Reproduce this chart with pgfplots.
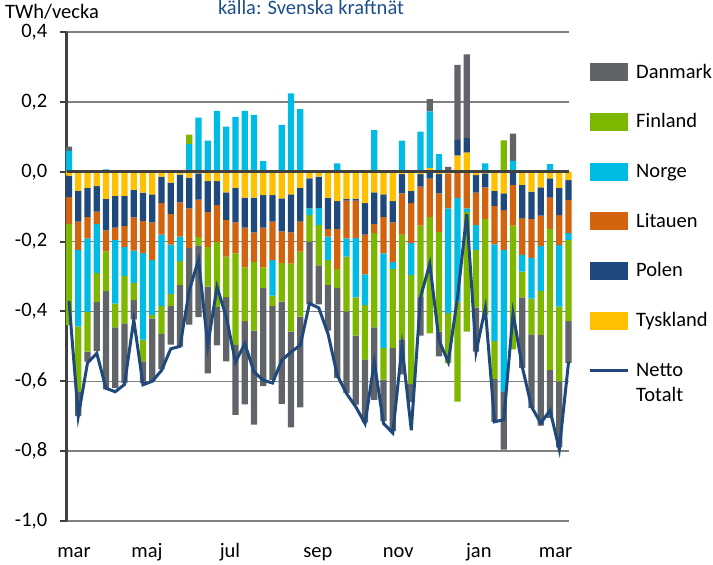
\documentclass[border=0pt]{standalone}
\usepackage{fontspec}
\setmainfont{Carlito}
\usepackage{pgfplots}
\usepackage{pgfplotstable}
\pgfplotsset{compat=1.18}
\definecolor{cDan}{RGB}{96,99,104}
\definecolor{cFin}{RGB}{125,183,0}
\definecolor{cNor}{RGB}{0,188,228}
\definecolor{cLit}{RGB}{210,100,15}
\definecolor{cPol}{RGB}{31,73,125}
\definecolor{cTys}{RGB}{255,192,0}
\definecolor{cNet}{RGB}{31,73,125}
\definecolor{cTitle}{RGB}{31,78,140}
\definecolor{cGrid}{RGB}{128,128,128}
\definecolor{cAxis}{RGB}{64,64,64}

\pgfplotstableread{
i T P L N F D net
0 -0.011 -0.062 -0.076 0.06 -0.29 0.012 -0.37
1 -0.055 -0.088 -0.081 -0.219 -0.186 -0.071 -0.70
2 -0.046 -0.083 -0.062 -0.21 -0.114 -0.029 -0.547
3 -0.041 -0.073 -0.036 -0.14 -0.083 -0.141 -0.52
4 -0.078 -0.09 -0.06 0.007 -0.114 -0.281 -0.62
5 -0.069 -0.091 -0.035 -0.183 -0.068 -0.173 -0.63
6 -0.069 -0.086 -0.06 -0.083 -0.136 -0.171 -0.609
7 -0.052 -0.079 -0.095 -0.092 -0.05 -0.055 -0.424
8 -0.06 -0.081 -0.092 -0.248 -0.062 -0.062 -0.61
9 -0.065 -0.08 -0.108 -0.157 -0.01 -0.18 -0.60
10 -0.014 -0.076 -0.09 -0.205 -0.079 -0.102 -0.569
11 -0.031 -0.09 -0.088 -0.141 -0.035 -0.11 -0.507
12 -0.008 -0.08 -0.098 -0.07 -0.069 -0.176 -0.50
13 -0.017 -0.088 -0.114 0.079 0.027 -0.219 -0.34
14 -0.005 -0.075 -0.107 0.155 -0.024 -0.205 -0.252
15 -0.027 -0.088 -0.1 0.089 -0.114 -0.248 -0.497
16 -0.027 -0.069 -0.105 0.174 -0.186 -0.11 -0.33
17 -0.059 -0.079 -0.105 0.129 -0.116 -0.184 -0.416
18 -0.046 -0.099 -0.089 0.157 -0.262 -0.2 -0.545
19 -0.074 -0.086 -0.114 0.174 -0.154 -0.238 -0.492
20 -0.074 -0.1 -0.085 0.163 -0.196 -0.269 -0.573
21 -0.067 -0.093 -0.114 0.03 -0.059 -0.281 -0.597
22 -0.067 -0.076 -0.11 -0.102 -0.029 -0.212 -0.605
23 -0.076 -0.095 -0.09 0.134 -0.111 -0.293 -0.54
24 -0.065 -0.109 -0.089 0.224 -0.195 -0.274 -0.516
25 -0.046 -0.097 -0.086 0.179 -0.186 -0.26 -0.497
26 -0.019 -0.086 0 -0.019 -0.076 -0.18 -0.377
27 -0.014 -0.09 0 -0.048 -0.116 -0.112 -0.39
28 -0.074 -0.09 -0.022 -0.067 -0.071 -0.131 -0.464
29 -0.084 -0.08 -0.114 0.024 -0.055 -0.257 -0.583
30 -0.078 -0.005 -0.108 -0.052 -0.157 -0.233 -0.635
31 -0.078 -0.005 -0.107 -0.17 -0.109 -0.198 -0.673
32 -0.09 -0.09 -0.114 -0.088 -0.155 -0.181 -0.721
33 -0.059 -0.09 -0.027 0.119 -0.27 -0.207 -0.545
34 -0.065 -0.064 -0.105 -0.271 -0.09 -0.119 -0.721
35 -0.084 -0.061 -0.114 -0.019 -0.227 -0.238 -0.748
36 -0.007 -0.055 -0.118 0.089 -0.3 -0.1 -0.50
37 -0.055 -0.035 -0.114 -0.092 -0.312 -0.052 -0.74
38 -0.007 -0.036 -0.111 0.115 -0.205 -0.11 -0.359
39 0.01 -0.02 -0.11 0.163 -0.333 0.035 -0.264
40 -0.007 -0.055 -0.11 0.05 -0.286 -0.071 -0.483
41 -0.005 0 -0.1 -0.3 -0.143 0.014 -0.545
42 0.046 0.045 -0.075 -0.297 -0.286 0.215 -0.359
43 0.055 0.041 -0.105 -0.01 -0.343 0.24 -0.121
44 -0.01 -0.05 -0.093 -0.071 -0.165 -0.126 -0.516
45 -0.005 -0.04 -0.09 0.024 -0.275 0 -0.39
46 -0.055 -0.043 -0.11 -0.276 -0.11 -0.122 -0.716
47 -0.062 -0.048 -0.114 -0.405 0.09 -0.167 -0.71
48 0 -0.038 -0.116 0.031 -0.355 0.078 -0.405
49 -0.038 -0.095 -0.105 -0.048 -0.074 -0.202 -0.559
50 -0.057 -0.078 -0.112 -0.116 -0.103 -0.21 -0.673
51 -0.045 -0.081 -0.086 -0.129 -0.126 -0.26 -0.72
52 -0.019 -0.055 -0.09 0.022 -0.403 -0.138 -0.683
53 -0.046 -0.078 -0.086 -0.176 -0.214 -0.189 -0.795
54 -0.024 -0.057 -0.095 -0.019 -0.233 -0.119 -0.545
}\data

\begin{document}
\begin{tikzpicture}[font=\fontsize{20.5}{24}\selectfont]
\useasboundingbox (-66.7pt,-44pt) rectangle (646.3pt,521pt);
\pgfplotsset{
  common/.style={scale only axis, width=502.3pt, height=489pt,
    xmin=-0.25, xmax=54.05, ymin=-1, ymax=0.4, at={(0pt,0pt)}, anchor=south west, clip=false},
  legbox/.style={legend image code/.code={\path[##1, draw=none] (0pt,-3pt) rectangle (38pt,15pt);}}
}
\begin{axis}[common, ybar stacked, bar width=6.3pt,
  axis lines*=left,
  x axis line style={cGrid, line width=1.5pt},
  y axis line style={cAxis, line width=2.5pt},
  ytick={-1,-0.8,-0.6,-0.4,-0.2,0,0.2,0.4},
  ymajorgrids, grid style={cGrid, line width=1.5pt},
  ytick style={cAxis, line width=2pt},
  tick align=outside, major tick length=7pt,
  xtick={0.54,8.43,17.4,26.9,35.6,44.3,52.6},
  xticklabels={mar,maj,jul,sep,nov,jan,mar},
  xtick style={draw=none},
  every tick label/.append style={font=\fontsize{20.5}{24}\selectfont},
  xticklabel style={anchor=base, yshift=-30pt},
  yticklabel style={xshift=-9pt, /pgf/number format/.cd, fixed, fixed zerofill, precision=1, use comma, assume math mode=true},
  reverse legend,
  legend style={at={(1,1)}, anchor=north west, xshift=19pt, yshift=-31pt,
    draw=none, fill=none, row sep=29.7pt, column sep=7pt, inner sep=0pt,
    font=\fontsize{20.5}{24}\selectfont,
    nodes={anchor=base west, inner sep=0pt, text height=15pt, text depth=5pt}},
]
% legend entry for the line
\addlegendimage{legend image code/.code={\draw[cNet, line width=3pt] (0pt,6pt) -- (38pt,6pt);}}
\addlegendentry{\begin{tabular}[t]{@{}l@{}}Netto\\[1pt]Totalt\end{tabular}}
\addplot[fill=cTys, draw=none, legbox] table[x=i, y=T] {\data};
\addlegendentry{Tyskland}
\addplot[fill=cPol, draw=none, legbox] table[x=i, y=P] {\data};
\addlegendentry{Polen}
\addplot[fill=cLit, draw=none, legbox] table[x=i, y=L] {\data};
\addlegendentry{Litauen}
\addplot[fill=cNor, draw=none, legbox] table[x=i, y=N] {\data};
\addlegendentry{Norge}
\addplot[fill=cFin, draw=none, legbox] table[x=i, y=F] {\data};
\addlegendentry{Finland}
\addplot[fill=cDan, draw=none, legbox] table[x=i, y=D] {\data};
\addlegendentry{Danmark}
\end{axis}
\begin{axis}[common, axis lines=none, xtick=\empty, ytick=\empty]
\draw[cAxis, line width=3pt] (axis cs:-0.25,0) -- (axis cs:54.05,0);
\addplot[cNet, line width=3pt, mark=none] table[x=i, y=net] {\data};
\end{axis}
\node[anchor=base west, inner sep=0pt] at (-61.7pt,502.5pt) {TWh/vecka};
\node[anchor=base, inner sep=0pt, text=cTitle] at (244.3pt,506pt) {källa: Svenska kraftnät};
\end{tikzpicture}
\end{document}
